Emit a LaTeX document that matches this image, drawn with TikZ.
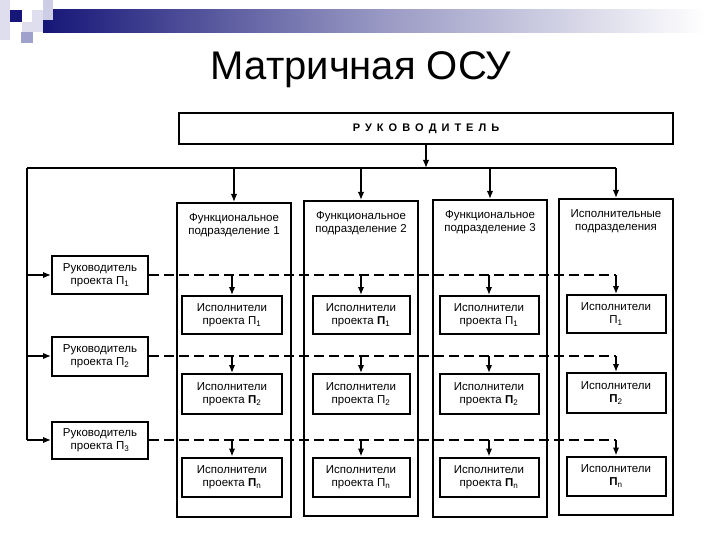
\documentclass[tikz,border=0pt]{standalone}
\usepackage{fontspec}
\setmainfont{Liberation Sans}
\usetikzlibrary{arrows.meta}
\newcommand\dfont{\fontsize{11.5}{13.5}\selectfont}
\newcommand\ttlfont{\fontsize{40}{46}\selectfont}
\definecolor{navy}{RGB}{22,22,120}
\definecolor{lav1}{RGB}{222,222,238}
\definecolor{lav2}{RGB}{205,205,230}
\definecolor{lav3}{RGB}{160,160,205}
\begin{document}
\begin{tikzpicture}[x=1pt,y=-1pt,
  box/.style={draw,line width=2pt,inner sep=0pt,align=center,font=\dfont},
  col/.style={draw,line width=2pt,inner sep=0pt,minimum width=114pt},
  lbl/.style={inner sep=0pt,align=center,font=\dfont},
  exe/.style={box,minimum height=38pt},
  lft/.style={box,minimum width=96pt,minimum height=38pt},
  ln/.style={line width=1.6pt},
  arr/.style={line width=1.5pt,-{Latex[length=8pt,width=6.5pt]}},
  dsh/.style={line width=1.8pt,dash pattern=on 10pt off 5pt}]
\useasboundingbox (0,0) rectangle (720,540);
% top decoration
\fill[lav1] (0,0) rectangle (10,40);
\shade[left color=navy,right color=white,middle color=navy!45!white] (43,10) rectangle (705,33);
\fill[lav2] (43,0) rectangle (53,20);
\fill[lav1] (32,10) rectangle (43,22);
\fill[navy] (10,10) rectangle (22,22);
\fill[lav1] (22,22) rectangle (43,32);
\fill[lav3] (21,32) rectangle (33,43);
% title
\node[anchor=base,inner sep=0pt,font=\ttlfont] (title) at (361,80) {Матричная ОСУ};
% head
\node[box,minimum width=494pt,minimum height=31pt] (boss) at (426,128.5)
  {\bfseries\fontsize{11}{13}\selectfont Р\kern5pt У\kern5pt К\kern5pt О\kern5pt В\kern5pt О\kern5pt Д\kern5pt И\kern5pt Т\kern5pt Е\kern5pt Л\kern5pt Ь};
% columns
\node[col,minimum height=314pt] (c1) at (234,360) {};
\node[col,minimum height=315pt] (c2) at (361,358.5) {};
\node[col,minimum height=317pt] (c3) at (490,358.5) {};
\node[col,minimum height=316pt] (c4) at (616,357) {};
\node[lbl] (h1) at ([yshift=-23pt]c1.north) {Функциональное\\подразделение 1};
\node[lbl] (h2) at ([yshift=-23pt]c2.north) {Функциональное\\подразделение 2};
\node[lbl] (h3) at ([yshift=-23pt]c3.north) {Функциональное\\подразделение 3};
\node[lbl] (h4) at ([yshift=-23pt]c4.north) {Исполнительные\\подразделения};
% left managers
\node[lft] (l1) at (100,275) {Руководитель\\проекта П\textsubscript{1}};
\node[lft,minimum height=39pt] (l2) at (100,356) {Руководитель\\проекта П\textsubscript{2}};
\node[lft,minimum height=37pt] (l3) at (100,440) {Руководитель\\проекта П\textsubscript{3}};
% executors
\node[exe,minimum width=100pt] (e11) at (232,315) {Исполнители\\проекта П\textsubscript{1}};
\node[exe,minimum width=97pt] (e12) at (361,315) {Исполнители\\проекта \textbf{П}\textsubscript{1}};
\node[exe,minimum width=99pt] (e13) at (489,315) {Исполнители\\проекта П\textsubscript{1}};
\node[exe,minimum width=99pt] (e14) at (616,314) {Исполнители\\П\textsubscript{1}};
\node[exe,minimum width=100pt,minimum height=40pt] (e21) at (232,394) {Исполнители\\проекта \textbf{П}\textsubscript{2}};
\node[exe,minimum width=97pt,minimum height=40pt] (e22) at (361,394) {Исполнители\\проекта П\textsubscript{2}};
\node[exe,minimum width=99pt,minimum height=40pt] (e23) at (489,394) {Исполнители\\проекта \textbf{П}\textsubscript{2}};
\node[exe,minimum width=99pt,minimum height=40pt] (e24) at (616,393) {Исполнители\\\textbf{П}\textsubscript{2}};
\node[exe,minimum width=100pt,minimum height=39pt] (e31) at (232,477) {Исполнители\\проекта \textbf{П}\textsubscript{n}};
\node[exe,minimum width=97pt,minimum height=39pt] (e32) at (361,477) {Исполнители\\проекта П\textsubscript{n}};
\node[exe,minimum width=99pt,minimum height=39pt] (e33) at (489,477) {Исполнители\\проекта \textbf{П}\textsubscript{n}};
\node[exe,minimum width=99pt,minimum height=39pt] (e34) at (616,476) {Исполнители\\\textbf{П}\textsubscript{n}};
% bus
\coordinate (busL) at (27,168);
\draw[arr] (boss.south) -- (boss.south |- busL);
\draw[ln] (busL) -- (c4.north |- busL);
\foreach \c in {c1,c2,c3,c4} \draw[arr] (\c.north |- busL) -- (\c.north);
\draw[ln] (busL) -- (busL |- l3.west);
\foreach \l in {l1,l2,l3} \draw[arr] (busL |- \l.west) -- (\l.west);
% project lines
\foreach \r in {1,2,3}{
  \draw[dsh] (l\r.east) -- (l\r.east -| e\r4.north);
  \foreach \k in {1,2,3,4} \draw[arr] (e\r\k.north |- l\r.east) -- (e\r\k.north);
}
\end{tikzpicture}
\end{document}
